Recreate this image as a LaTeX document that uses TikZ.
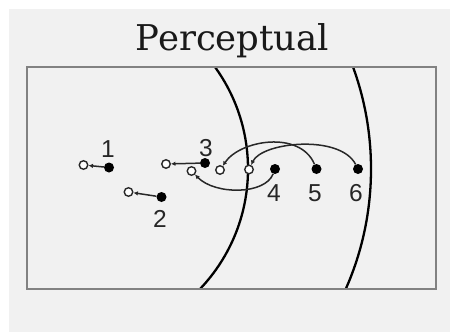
\documentclass[tikz,border=0pt]{standalone}
\usepackage{fontspec}
\setmainfont{DejaVu Serif}
\newfontfamily\digitfont{Liberation Sans}
\usetikzlibrary{arrows.meta}
\pgfdeclarelayer{bg}
\pgfsetlayers{bg,main}
\definecolor{bggray}{RGB}{241,241,241}
\definecolor{boxgray}{RGB}{130,130,130}
\definecolor{conngray}{RGB}{40,40,40}
\tikzset{
  dotnode/.style={circle, fill=black, inner sep=0pt, minimum size=10pt},
  pnode/.style={circle, draw=conngray, fill=white, line width=1.4pt, inner sep=0pt, minimum size=8.5pt},
  numlabel/.style={font=\digitfont\fontsize{24.5}{24.5}\selectfont, text=black!85, inner sep=0pt, anchor=base},
  conn/.style={draw=conngray, line width=1.5pt, -{Latex[length=4.5pt,width=4.5pt]}},
  ring/.style={draw=black, line width=2.3pt},
  frame/.style={draw=boxgray, line width=2.2pt}
}
\begin{document}
\begin{tikzpicture}[x=1pt,y=-1pt]
\useasboundingbox (0,0) rectangle (450,332);
\begin{pgfonlayer}{bg}
  \fill[white] (0,0) rectangle (450,332);
  \fill[bggray] (9,9) rectangle (450,332);
  \begin{scope}
    \clip (27,67) rectangle (436,289);
    \draw[ring] (74,169) circle[radius=174];
    \draw[ring] (74,169) circle[radius=297];
  \end{scope}
  \draw[frame] (27,67) rectangle (436,289);
\end{pgfonlayer}
\node[font=\fontsize{35.5}{35.5}\selectfont, text=black!90, anchor=base, inner sep=0pt] (title) at (232.5,50) {Perceptual};
% actual positions (dots)
\node[dotnode] (d1) at (109,167.5) {};
\node[dotnode] (d2) at (161.5,197) {};
\node[dotnode] (d3) at (205,163) {};
\node[dotnode] (d4) at (275,169) {};
\node[dotnode] (d5) at (316.5,169) {};
\node[dotnode] (d6) at (358,169) {};
% perceived positions (open circles)
\node[pnode] (p1) at (83.5,165) {};
\node[pnode] (p2) at (128.5,192) {};
\node[pnode] (p3) at (166,164) {};
\node[pnode] (p4) at (191.5,171) {};
\node[pnode] (p5) at (220,170) {};
\node[pnode] (p6) at (249,169.5) {};
% labels
\node[numlabel] (l1) at (108,157) {1};
\node[numlabel] (l2) at (160,227) {2};
\node[numlabel] (l3) at (206,156) {3};
\node[numlabel] (l4) at (274,201) {4};
\node[numlabel] (l5) at (315,201) {5};
\node[numlabel] (l6) at (356,201) {6};
% connectors
\draw[conn] (d1) -- (p1);
\draw[conn] (d2) -- (p2);
\draw[conn] (d3) -- (p3);
\draw[conn] (d4) .. controls (265,195) and (215,195) .. (p4);
\draw[conn] (d5) .. controls (300,130) and (240,140) .. (p5);
\draw[conn] (d6) .. controls (340,134) and (262,142) .. (p6);
\end{tikzpicture}
\end{document}
